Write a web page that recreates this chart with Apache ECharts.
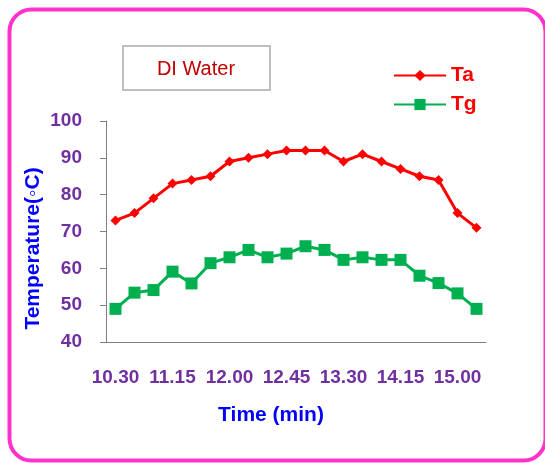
<!DOCTYPE html>
<html>
<head>
<meta charset="utf-8">
<script src="https://cdn.jsdelivr.net/npm/echarts@6/dist/echarts.min.js"></script>
<style>
html,body{margin:0;padding:0;background:#fff;}
#chart{width:545px;height:463px;}
</style>
</head>
<body>
<div id="chart"></div>
<script>
var categories = ['10.30','10.45','11.00','11.15','11.30','11.45','12.00','12.15','12.30','12.45',
                  '13.00','13.15','13.30','13.45','14.00','14.15','14.30','14.45','15.00','15.15'];
var taValues = [73, 75, 79, 83, 84, 85, 89, 90, 91, 92, 92, 92, 89, 91, 89, 87, 85, 84, 75, 71];
var tgValues = [49, 53.4, 54.1, 59.1, 55.9, 61.4, 63, 65, 63, 64, 66, 65, 62.3, 63, 62.3, 62.3, 58, 56, 53.2, 49];
var yTicks = {min: 40, max: 100, interval: 10};

var chart = echarts.init(document.getElementById('chart'));
var font = 'Liberation Sans, Arial, sans-serif';
chart.setOption({
  animation: false,
  backgroundColor: '#ffffff',
  graphic: [
    {type: 'rect', shape: {x: 9.5, y: 9.5, width: 536, height: 451, r: 22},
     style: {fill: 'none', stroke: '#ff33cc', lineWidth: 4}, z: -1},
    {type: 'rect', shape: {x: 123, y: 46, width: 147, height: 44},
     style: {fill: '#ffffff', stroke: '#bfbfbf', lineWidth: 2}, z: 0}
  ],
  title: {
    text: 'DI Water', left: 196, top: 59, textAlign: 'center', padding: 0,
    textStyle: {color: '#c00000', fontSize: 20, fontWeight: 'normal', fontFamily: font}
  },
  legend: {
    orient: 'vertical', left: 393, top: 65, padding: 0, itemWidth: 52, itemHeight: 14, itemGap: 8,
    textStyle: {color: '#ff0000', fontSize: 21, fontWeight: 'bold', fontFamily: font, lineHeight: 20},
    data: ['Ta', 'Tg']
  },
  grid: {left: 106, right: 59, top: 121, bottom: 121, containLabel: false},
  xAxis: {
    type: 'category', data: categories, boundaryGap: true,
    name: 'Time (min)', nameLocation: 'middle', nameGap: 63, nameMoveOverlap: false,
    nameTextStyle: {color: '#0000ff', fontSize: 21, fontWeight: 'bold', fontFamily: font, padding: [0, 50, 0, 0]},
    axisLine: {lineStyle: {color: '#808080', width: 1}},
    axisTick: {interval: 0, length: 6, lineStyle: {color: '#808080'}},
    axisLabel: {interval: 2, margin: 26, color: '#7030a0', fontSize: 19, fontWeight: 'bold', fontFamily: font}
  },
  yAxis: {
    type: 'value', min: yTicks.min, max: yTicks.max, interval: yTicks.interval,
    name: 'Temperature(\u25E6C)', nameLocation: 'middle', nameRotate: 90, nameGap: 62, nameMoveOverlap: false,
    nameTextStyle: {color: '#0000ff', fontSize: 21, fontWeight: 'bold', fontFamily: font, padding: [0, 34, 0, 0]},
    axisLine: {show: true, lineStyle: {color: '#808080', width: 1}},
    axisTick: {show: true, length: 6, lineStyle: {color: '#808080'}},
    splitLine: {show: false},
    axisLabel: {margin: 24, color: '#7030a0', fontSize: 19, fontWeight: 'bold', fontFamily: font}
  },
  series: [
    {name: 'Ta', type: 'line', data: taValues, symbol: 'diamond', symbolSize: 10,
     lineStyle: {color: '#ff0000', width: 3}, itemStyle: {color: '#ff0000'}},
    {name: 'Tg', type: 'line', data: tgValues, symbol: 'rect', symbolSize: 12,
     lineStyle: {color: '#00b050', width: 3}, itemStyle: {color: '#00b050'}}
  ]
});
</script>
</body>
</html>
